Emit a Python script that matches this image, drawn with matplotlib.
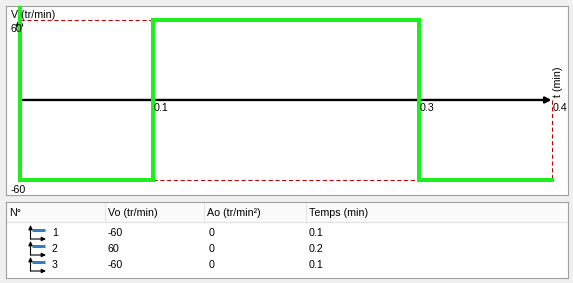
import matplotlib
matplotlib.use("Agg")
import matplotlib.pyplot as plt
import numpy as np

# segments of the speed profile
seg_ids = [1, 2, 3]
speeds = [-60, 60, -60]      # Vo (tr/min)
accels = [0, 0, 0]           # Ao (tr/min^2)
durations = [0.1, 0.2, 0.1]  # Temps (min)
x_ticks = [0.1, 0.3, 0.4]
headers = ["N°", "Vo (tr/min)", "Ao (tr/min²)", "Temps (min)"]

W, H = 573, 283
plt.rcParams["font.family"] = ["Liberation Sans", "DejaVu Sans"]
fs = 7.7

fig = plt.figure(figsize=(W / 100, H / 100), dpi=100, facecolor="#f0f0f0")


def px_rect(x0, y0, x1, y1):
    # pixel box (top-left origin) -> figure fraction rect
    return [x0 / W, (H - y1) / H, (x1 - x0) / W, (y1 - y0) / H]


# ---- plot panel
ax = fig.add_axes(px_rect(6, 6, 568, 195), facecolor="white")
ax.set_xlim(-0.0102, 0.4124)
ax.set_ylim(-71.3, 70.5)
ax.set_xticks([])
ax.set_yticks([])
for s in ax.spines.values():
    s.set_color("#a0a0a0")
    s.set_linewidth(0.8)

edges = np.concatenate([[0], np.cumsum(durations)])
t_end = edges[-1]
v_max, v_min = max(speeds), min(speeds)

# dashed limit lines
red = dict(color="#c00000", lw=0.75, ls=(0, (4, 2.5)), zorder=2)
ax.plot([edges[0], edges[1]], [v_max, v_max], **red)
ax.plot([edges[1], edges[2]], [v_min, v_min], **red)
ax.plot([t_end, t_end], [0, v_min], **red)

# axes arrows
arrow = dict(arrowstyle="-|>,head_length=0.35,head_width=0.18", color="black", lw=1.7,
             shrinkA=0, shrinkB=0)
ax.annotate("", xy=(t_end, 0), xytext=(0, 0), arrowprops=arrow, zorder=3)
ax.annotate("", xy=(0, v_max + 1.5), xytext=(0, 0), arrowprops=arrow, zorder=3)

# green speed profile
top = ax.get_ylim()[1]
gx = np.concatenate([[0], np.repeat(edges, 2)[1:-1]])
gy = np.concatenate([[top], np.repeat(speeds, 2)])
ax.plot(gx, gy, color="#1eee1e", lw=2.9, solid_joinstyle="miter", zorder=4)

# labels
for t in x_ticks:
    ax.text(t + 0.001, -2.0, f"{t:g}", fontsize=fs, ha="left", va="top", zorder=5, clip_on=True)
ax.text(-0.0065, 64.0, "V (tr/min)", fontsize=fs, ha="left", va="center", zorder=5)
ax.text(-0.0065, 53.5, f"{v_max}", fontsize=fs, ha="left", va="center", zorder=5)
ax.text(-0.0065, -67.5, f"{v_min}", fontsize=fs, ha="left", va="center", zorder=5)
ax.text(t_end + 0.0052, 2.0, "t (min)", fontsize=fs, rotation=90, ha="center", va="bottom",
        zorder=5, clip_on=True)

# ---- table panel
tb = fig.add_axes(px_rect(6, 202, 568, 278), facecolor="white")
tb.set_xlim(6, 568)
tb.set_ylim(278, 202)
tb.set_xticks([])
tb.set_yticks([])
for s in tb.spines.values():
    s.set_color("#a0a0a0")
    s.set_linewidth(0.8)

# header
tb.fill_between([6, 568], 203, 222, color="#fbfbfb", zorder=0)
tb.plot([6, 568], [222, 222], color="#e2e2e2", lw=0.8)
col_x = [9, 108, 207, 309]
for cx in col_x[1:]:
    tb.plot([cx - 3, cx - 3], [203, 222], color="#e4e4e4", lw=0.8)
for cx, h in zip(col_x, headers):
    tb.text(cx, 213, h, fontsize=fs, ha="left", va="center")

icon_arrow = dict(arrowstyle="-|>,head_length=0.25,head_width=0.12", color="black",
                  lw=0.8, shrinkA=0, shrinkB=0)
row_y = [233, 249, 265]
for ry, n, v, a, d in zip(row_y, seg_ids, speeds, accels, durations):
    # small segment icon
    tb.annotate("", xy=(30.5, ry - 8), xytext=(30.5, ry + 6), arrowprops=icon_arrow)
    tb.annotate("", xy=(46, ry + 6), xytext=(30.5, ry + 6), arrowprops=icon_arrow)
    tb.plot([32, 45], [ry - 3, ry - 3], color="#2f7fc8", lw=2.2, solid_capstyle="butt")
    tb.text(52, ry, str(n), fontsize=fs, ha="left", va="center")
    tb.text(col_x[1], ry, str(v), fontsize=fs, ha="left", va="center")
    tb.text(col_x[2] + 2, ry, str(a), fontsize=fs, ha="left", va="center")
    tb.text(col_x[3], ry, f"{d:g}", fontsize=fs, ha="left", va="center")

fig.savefig("out.png", dpi=100, facecolor=fig.get_facecolor())
